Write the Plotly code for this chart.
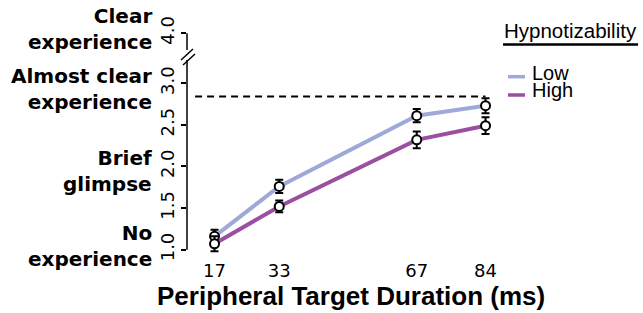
import plotly.graph_objects as go

# ---- data ----
durations = [17, 33, 67, 84]
series_names = ["Low", "High"]
low_means = [1.16, 1.76, 2.61, 2.73]
low_err = [0.08, 0.08, 0.08, 0.09]
high_means = [1.07, 1.52, 2.32, 2.49]
high_err = [0.09, 0.07, 0.10, 0.10]
ceiling_value = 2.84
y_tick_values = [1.0, 1.5, 2.0, 2.5, 3.0, 4.0]
y_tick_labels = ["1.0", "1.5", "2.0", "2.5", "3.0", "4.0"]
category_values = [4.0, 3.0, 2.0, 1.0]
category_labels = ["Clear<br>experience", "Almost clear<br>experience",
                   "Brief<br>glimpse", "No<br>experience"]
x_title = "Peripheral Target Duration (ms)"
legend_title = "Hypnotizability"
colors = ["#9ea9d8", "#9a4fa0"]

# broken axis: values above 3.0 are compressed
BREAK_AT = 3.0
COMPRESS = 0.602


def ymap(v):
    return v if v <= BREAK_AT else BREAK_AT + (v - BREAK_AT) * COMPRESS


# ---- layout geometry (pixels) ----
W, H = 643, 313
L, R, T, B = 187, 500, 25, 258


def px(xp):
    return (xp - L) / (R - L)


def py(yp):
    return (B - yp) / (B - T)


fig = go.Figure()
means = [low_means, high_means]
errs = [low_err, high_err]

# lines
for name, m, c in zip(series_names, means, colors):
    fig.add_trace(go.Scatter(x=durations, y=[ymap(v) for v in m], mode="lines",
                             line=dict(color=c, width=4), name=name,
                             showlegend=False, hoverinfo="skip"))
# markers with error bars
for name, m, e in zip(series_names, means, errs):
    fig.add_trace(go.Scatter(x=durations, y=[ymap(v) for v in m], mode="markers",
                             marker=dict(symbol="circle", size=9, color="white",
                                         line=dict(color="black", width=2)),
                             error_y=dict(type="data", array=e, color="black",
                                          thickness=2, width=4),
                             name=name, showlegend=False, cliponaxis=False))

shapes = []
# ceiling dashed line
shapes.append(dict(type="line", xref="x", yref="y", x0=12.2, x1=durations[-1],
                   y0=ymap(ceiling_value), y1=ymap(ceiling_value),
                   line=dict(color="black", width=2, dash="7px,5px")))
# y axis line, with break
shapes.append(dict(type="line", xref="paper", yref="y", x0=0, x1=0,
                   y0=ymap(1.0), y1=3.28, line=dict(color="black", width=1.5)))
shapes.append(dict(type="line", xref="paper", yref="y", x0=0, x1=0,
                   y0=3.40, y1=ymap(4.0), line=dict(color="black", width=1.5)))
for (x0, y0, x1, y1) in [(181, 60, 193, 49), (183, 65, 195, 54)]:
    shapes.append(dict(type="line", xref="paper", yref="paper",
                       x0=px(x0), y0=py(y0), x1=px(x1), y1=py(y1),
                       line=dict(color="black", width=1.5)))
# legend underline
shapes.append(dict(type="line", xref="paper", yref="paper",
                   x0=px(503), x1=px(638), y0=py(44.5), y1=py(44.5),
                   line=dict(color="black", width=2.5)))
# legend samples
for i, c in enumerate(colors):
    yy = 76.7 + i * 18.3
    shapes.append(dict(type="line", xref="paper", yref="paper",
                       x0=px(508), x1=px(525), y0=py(yy), y1=py(yy),
                       line=dict(color=c, width=3.5)))

annotations = []
cat_shift = [4, -6, -5, 4]
for v, lab, s in zip(category_values, category_labels, cat_shift):
    annotations.append(dict(xref="paper", yref="y", x=px(154), y=ymap(v),
                            yshift=s, text="<b>" + lab + "</b>", showarrow=False,
                            xanchor="right", yanchor="middle", align="right",
                            font=dict(family="DejaVu Sans", size=20, color="black")))
annotations.append(dict(xref="paper", yref="paper", x=px(351), y=py(296),
                        text="<b>" + x_title + "</b>", showarrow=False,
                        xanchor="center", yanchor="middle",
                        font=dict(family="Liberation Sans", size=26, color="black")))
annotations.append(dict(xref="paper", yref="paper", x=px(502), y=py(31),
                        text=legend_title, showarrow=False,
                        xanchor="left", yanchor="middle",
                        font=dict(family="Liberation Sans", size=20.5, color="black")))
for i, name in enumerate(series_names):
    annotations.append(dict(xref="paper", yref="paper", x=px(530), y=py(72.5 + i * 17.7),
                            text=name, showarrow=False, xanchor="left", yanchor="middle",
                            font=dict(family="Liberation Sans", size=20, color="black")))

fig.update_layout(
    width=W, height=H,
    margin=dict(l=L, r=W - R, t=T, b=H - B, pad=0),
    paper_bgcolor="white", plot_bgcolor="white",
    showlegend=False,
    shapes=shapes, annotations=annotations,
    xaxis=dict(range=[10.2, 87.58], tickvals=durations,
               ticktext=[str(d) for d in durations],
               showline=False, showgrid=False, zeroline=False, ticks="",
               tickfont=dict(family="DejaVu Sans", size=18, color="black")),
    yaxis=dict(range=[0.9, 3.7], tickvals=[ymap(v) for v in y_tick_values],
               ticktext=y_tick_labels, tickangle=-90,
               showline=False, showgrid=False, zeroline=False,
               ticks="outside", ticklen=5, tickwidth=1.5, tickcolor="black",
               tickfont=dict(family="DejaVu Sans", size=18, color="black")),
)

fig.write_html("out.html", config={"displayModeBar": False},
               post_script="document.body.style.margin='0px';document.body.style.overflow='hidden';")
